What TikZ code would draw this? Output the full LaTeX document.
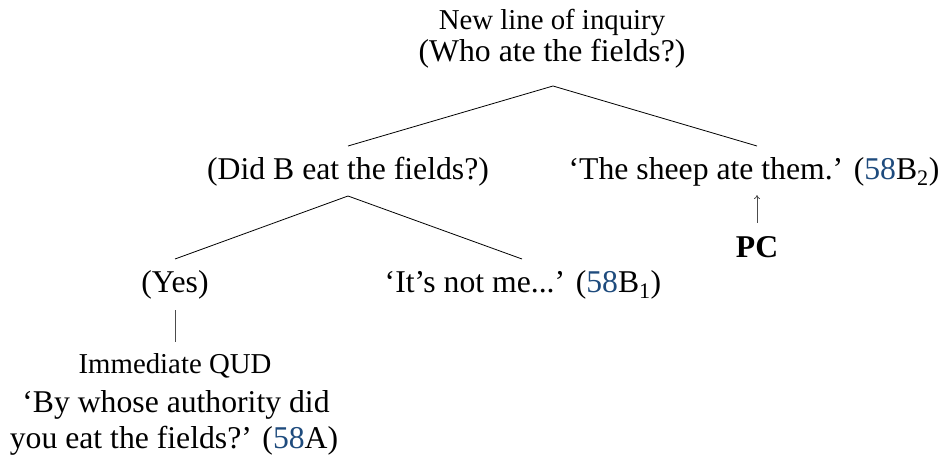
\documentclass[tikz,border=0pt]{standalone}
\usepackage{fontspec}
\setmainfont{Liberation Serif}
\usetikzlibrary{calc,arrows.meta}
\definecolor{refblue}{RGB}{30,75,125}
\newcommand{\bigtxt}{\fontsize{31.7}{38}\selectfont}
\newcommand{\smalltxt}{\fontsize{28.8}{34}\selectfont}
\begin{document}
\begin{tikzpicture}[x=1pt,y=-1pt,
  txt/.style={inner sep=0pt,anchor=base,font=\bigtxt},
  stxt/.style={inner sep=0pt,anchor=base,font=\smalltxt},
  edge/.style={line width=0.8pt,black},
  vbar/.style={line width=0.8pt,black!70}]
\useasboundingbox (0,0) rectangle (944,457);
% top node
\node[stxt] (top1) at (552,30) {New line of inquiry};
\node[txt] (top2) at (552,62) {(Who ate the fields?)};
% level 1
\node[txt] (did) at (348,179) {(Did B eat the fields?)};
\node[txt] (sheep) at (754,179) {‘The sheep ate them.’ (\textcolor{refblue}{58}B\textsubscript{2})};
\node[txt,font=\bigtxt\bfseries] (pc) at (757,257) {PC};
% level 2
\node[txt] (yes) at (175,292) {(Yes)};
\node[txt] (notme) at (523,292) {‘It’s not me...’ (\textcolor{refblue}{58}B\textsubscript{1})};
% QUD
\node[stxt] (qud1) at (175,373) {Immediate QUD};
\node[txt] (qud2) at (176,412) {‘By whose authority did};
\node[txt] (qud3) at (174,448) {you eat the fields?’ (\textcolor{refblue}{58}A)};
% connector points
\coordinate (topc) at (553,86);
\coordinate (didup) at (348,146);
\coordinate (sheepup) at (757,146);
\coordinate (didc) at (348,196);
\coordinate (yesup) at (175,259);
\coordinate (notmeup) at (522,259);
\draw[edge] (didup) -- (topc) -- (sheepup);
\draw[edge] (yesup) -- (didc) -- (notmeup);
\draw[vbar] ($(yes.base)+(0,18)$) -- ($(qud1.base)+(0,-31)$);
\draw[vbar,-{To[length=4pt,width=6pt]}] ($(pc.north)+(0,-13)$) -- ($(sheep.base)+(3,16)$);
\end{tikzpicture}
\end{document}
